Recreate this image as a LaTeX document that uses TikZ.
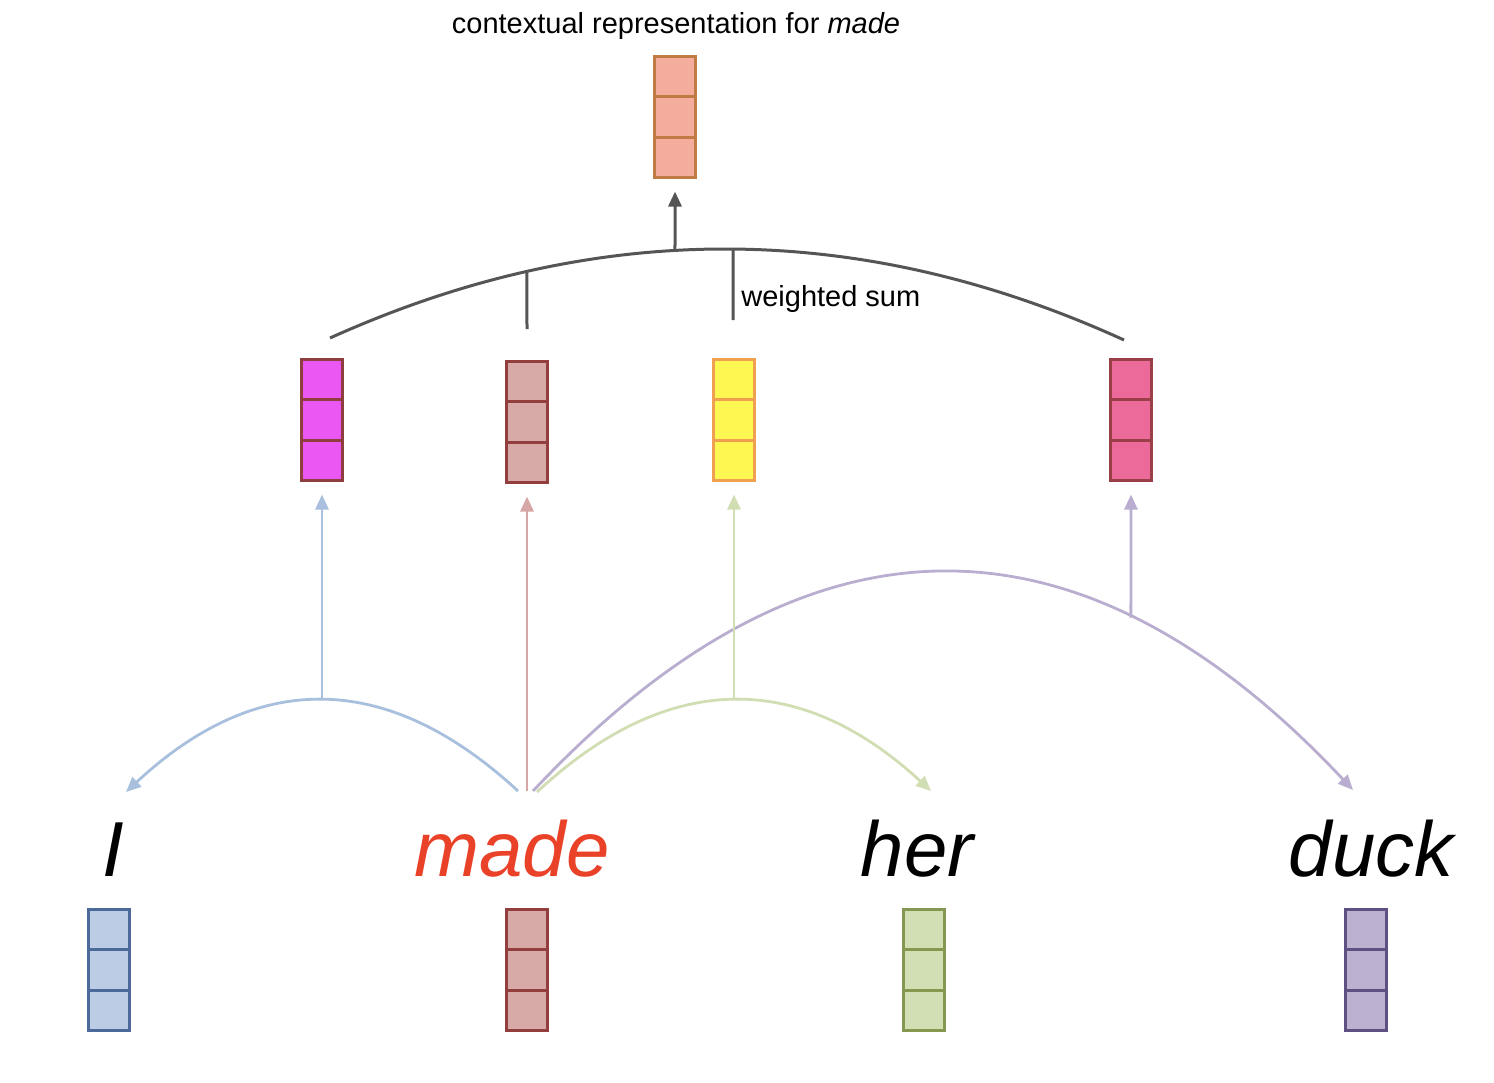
\documentclass[tikz,border=0pt]{standalone}
\usepackage{fontspec}
\setmainfont{Liberation Sans}
\usetikzlibrary{arrows.meta,calc}
\definecolor{sumgray}{HTML}{555555}
\definecolor{madered}{HTML}{E94228}
\definecolor{topfill}{HTML}{F4AC9C}\definecolor{topdraw}{HTML}{C07A44}
\definecolor{magfill}{HTML}{EB57F2}\definecolor{magdraw}{HTML}{8E3E3E}
\definecolor{pbfill}{HTML}{D7AAA8}\definecolor{pbdraw}{HTML}{943F3F}
\definecolor{yelfill}{HTML}{FEF752}\definecolor{yeldraw}{HTML}{F0A050}
\definecolor{pkfill}{HTML}{EC6A99}\definecolor{pkdraw}{HTML}{9A3E47}
\definecolor{blfill}{HTML}{BBCCE4}\definecolor{bldraw}{HTML}{4B6A9A}
\definecolor{grfill}{HTML}{D2DEB3}\definecolor{grdraw}{HTML}{84994F}
\definecolor{pufill}{HTML}{BCB1CE}\definecolor{pudraw}{HTML}{5F5083}
\definecolor{blline}{HTML}{A8C0DE}
\definecolor{pkline}{HTML}{D7A6A6}
\definecolor{grline}{HTML}{D1DDB2}
\definecolor{puline}{HTML}{B9AECF}
\tikzset{
  vecbox/.style 2 args={rectangle, draw=#2, fill=#1, line width=1.5pt,
    minimum width=20.5pt, minimum height=60.5pt, inner sep=0pt, outer sep=0pt,
    path picture={\foreach \f in {1,2} {\draw[line width=1.5pt,#2]
      ($(path picture bounding box.north west)!\f/3!(path picture bounding box.south west)$) -- ++(40pt,0);}}},
  word/.style={anchor=base, inner sep=0pt, font=\fontsize{39}{39}\selectfont\itshape},
  label/.style={inner sep=0pt, font=\fontsize{14.5}{16}\selectfont},
  tip/.style={-{Triangle[length=7.5pt,width=6.5pt]}},
  conn/.style={line width=1.4pt, draw=#1, tip, shorten >=0pt},
  upconn/.style={line width=1.4pt, draw=#1, tip, shorten >=7pt},
  sumline/.style={line width=1.5pt, draw=sumgray},
}
\begin{document}
\begin{tikzpicture}[x=0.5pt,y=-0.5pt]
\useasboundingbox (0,0) rectangle (1494,1082);

% title and top vector
\node[label, anchor=base] (title) at (676,33) {contextual representation for \textit{made}};
\node[vecbox={topfill}{topdraw}] (vtop) at (675,117) {};

% middle (weighted) vectors
\node[vecbox={magfill}{magdraw}] (vI) at (322,420) {};
\node[vecbox={pbfill}{pbdraw}] (vmade) at (527,422) {};
\node[vecbox={yelfill}{yeldraw}] (vher) at (734,420) {};
\node[vecbox={pkfill}{pkdraw}] (vduck) at (1131,420) {};

% words
\node[word] (wI) at (113,876) {I};
\node[word, text=madered] (wmade) at (512,876) {made};
\node[word] (wher) at (917,876) {her};
\node[word] (wduck) at (1371,876) {duck};

% input vectors
\node[vecbox={blfill}{bldraw}] (eI) at (109,970) {};
\node[vecbox={pbfill}{pbdraw}] (emade) at (527,970) {};
\node[vecbox={grfill}{grdraw}] (eher) at (924,970) {};
\node[vecbox={pufill}{pudraw}] (educk) at (1366,970) {};

% weighted sum arc
\coordinate (wsL) at (330,338);
\coordinate (wsR) at (1124,340);
\coordinate (tickA) at (527,329);
\coordinate (tickB) at (733,320);
\draw[sumline] (wsL) .. controls (594.7,218.7) and (859.3,219.3) .. (wsR)
  coordinate[pos=0.4345] (wsTop) coordinate[pos=0.248] (wsA) coordinate[pos=0.5076] (wsB);
\draw[sumline] (wsA) -- (tickA);
\draw[sumline] (wsB) -- (tickB);
\draw[sumline, tip, shorten >=7pt] (wsTop) -- (vtop.south);
\node[label, anchor=base west] (wslabel) at (741,306) {weighted sum};

% attention arcs from "made"
\coordinate (bS) at (518,791);
\coordinate (bE) at (126,792);
\coordinate (pS) at (533,791);
\coordinate (pE) at (1353,790);
\coordinate (gS) at (537,792);
\coordinate (gE) at (931,791);
\coordinate (mS) at (527,791);

\draw[conn=blline] (bS) .. controls (387,670) and (257,670) .. (bE) coordinate[pos=0.5] (bTop);
\draw[conn=puline] (pS) .. controls (806,500) and (1080,499) .. (pE) coordinate[pos=0.729] (pTop);
\draw[conn=grline] (gS) .. controls (668,670) and (800,670) .. (gE) coordinate[pos=0.5] (gTop);

\draw[upconn=blline] (bTop) -- (vI.south);
\draw[upconn=pkline] (mS) -- (vmade.south);
\draw[upconn=grline] (gTop) -- (vher.south);
\draw[upconn=puline] (pTop) -- (vduck.south);
\end{tikzpicture}
\end{document}
